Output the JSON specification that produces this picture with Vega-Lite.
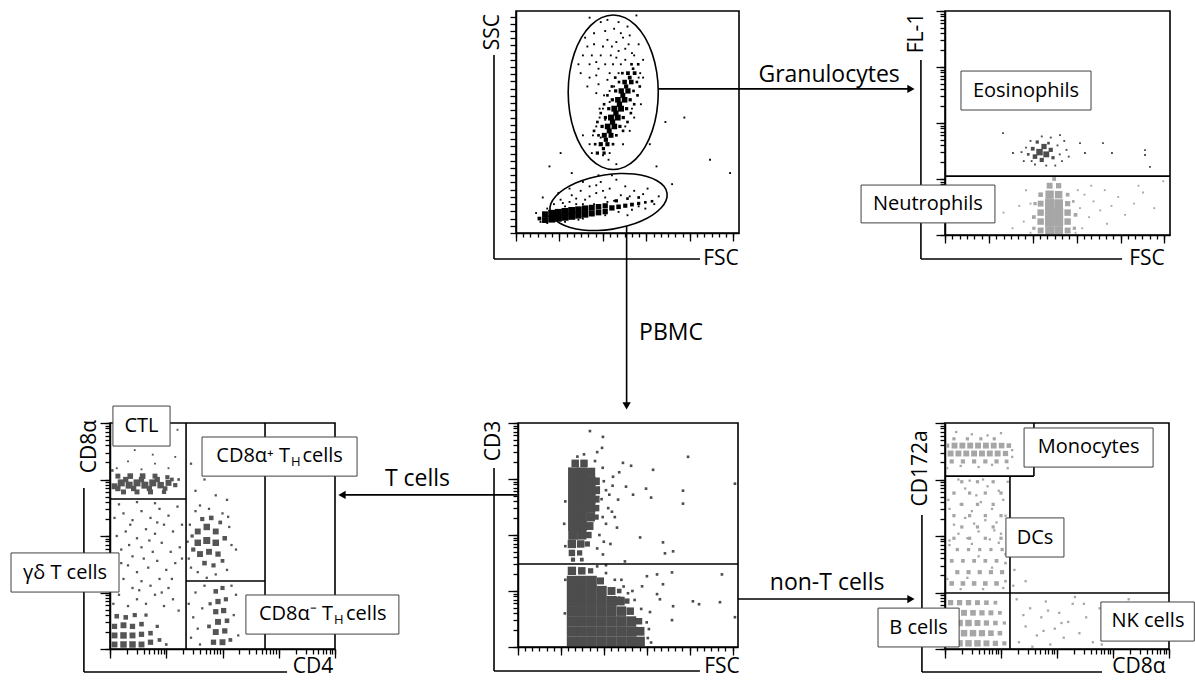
{
"$schema": "https://vega.github.io/schema/vega-lite/v6.json",
"width": 1195, "height": 680, "padding": 0, "autosize": {"type": "none"},
"background": "white",
"config": {"view": {"stroke": null}, "font": "Open Sans", "axis": {"domainColor": "black", "domainWidth": 1.5, "tickColor": "black", "tickWidth": 1.3, "labels": false, "grid": false, "zindex": 1}},
"resolve": {"scale": {"x": "independent", "y": "independent"}},
"layer": [
{
 "resolve": {"axis": {"x": "independent", "y": "independent"}},
 "layer": [
  {"data": {"values": [
{"x":34,"y":36,"n":1},{"x":36.5,"y":36,"n":3},{"x":39.5,"y":36,"n":3},{"x":42,"y":36,"n":1},
{"x":33,"y":40,"n":1},{"x":35.5,"y":40,"n":2},{"x":38,"y":40,"n":5},{"x":41,"y":40,"n":5},{"x":43.5,"y":40,"n":2},
{"x":34.5,"y":44,"n":1},{"x":37,"y":44,"n":2},{"x":39.6,"y":44,"n":7},{"x":42.6,"y":44,"n":7},{"x":45,"y":44,"n":2},
{"x":36,"y":48,"n":1},{"x":38.6,"y":48,"n":3},{"x":41.1,"y":48,"n":9},{"x":44.1,"y":48,"n":9},{"x":46.6,"y":48,"n":3},{"x":49,"y":48,"n":1},
{"x":37.5,"y":52,"n":1},{"x":40.1,"y":52,"n":3},{"x":42.6,"y":52,"n":10},{"x":45.6,"y":52,"n":10},{"x":48.1,"y":52,"n":3},
{"x":39,"y":56,"n":1},{"x":41.6,"y":56,"n":3},{"x":44.1,"y":56,"n":10},{"x":47.1,"y":56,"n":10},{"x":49.6,"y":56,"n":3},{"x":52,"y":56,"n":1},
{"x":43.2,"y":60,"n":3},{"x":45.7,"y":60,"n":9},{"x":48.7,"y":60,"n":9},{"x":51.2,"y":60,"n":3},
{"x":42,"y":64,"n":1},{"x":44.7,"y":64,"n":3},{"x":47.2,"y":64,"n":8},{"x":50.2,"y":64,"n":8},{"x":52.7,"y":64,"n":2},
{"x":46.2,"y":68,"n":2},{"x":48.7,"y":68,"n":6},{"x":51.7,"y":68,"n":6},{"x":54.2,"y":68,"n":2},
{"x":47.7,"y":72,"n":2},{"x":50.2,"y":72,"n":4},{"x":53.2,"y":72,"n":4},{"x":55.7,"y":72,"n":1},
{"x":51.8,"y":76,"n":2},{"x":54.8,"y":76,"n":2},
{"x":39.2,"y":38,"n":3},{"x":40.3,"y":42,"n":5},{"x":41.8,"y":46,"n":7},{"x":43.3,"y":50,"n":8},{"x":44.8,"y":54,"n":8},{"x":46.4,"y":58,"n":8},{"x":47.9,"y":62,"n":7},{"x":49.4,"y":66,"n":5},{"x":51,"y":70,"n":4},{"x":52.5,"y":74,"n":2},
{"x":35,"y":46,"n":2},{"x":48,"y":46,"n":2},{"x":36.5,"y":50,"n":2},{"x":50,"y":50,"n":2},{"x":38,"y":54,"n":2},{"x":51.5,"y":54,"n":2},{"x":39.5,"y":58,"n":2},{"x":53,"y":58,"n":2},{"x":41,"y":62,"n":2},{"x":54.5,"y":62,"n":2},{"x":43,"y":66,"n":2},{"x":55.5,"y":66,"n":2},{"x":44.5,"y":70,"n":2},{"x":57,"y":70,"n":1},
{"x":39,"y":35,"n":1},{"x":41.5,"y":33,"n":1},{"x":45,"y":31,"n":1},{"x":38,"y":43,"n":1},{"x":40,"y":51,"n":1},{"x":37.5,"y":56,"n":1},{"x":42,"y":59,"n":1},{"x":39.5,"y":62,"n":1},{"x":44,"y":66,"n":1},{"x":41,"y":69,"n":1},{"x":36,"y":71,"n":1},{"x":46,"y":72,"n":1},{"x":43.5,"y":76,"n":1},{"x":49,"y":78,"n":1},{"x":38,"y":80,"n":1},{"x":46,"y":82,"n":1},{"x":52,"y":81,"n":1},{"x":35,"y":85,"n":1},{"x":41,"y":87,"n":1},{"x":48,"y":88,"n":1},{"x":44,"y":92,"n":1},{"x":38,"y":95,"n":1},{"x":50,"y":93,"n":1},{"x":33,"y":76,"n":1},{"x":31,"y":88,"n":1},{"x":29,"y":72,"n":1},{"x":55,"y":70,"n":1},{"x":56,"y":58,"n":1},{"x":53,"y":52,"n":1},{"x":51,"y":46,"n":1},{"x":48,"y":40,"n":1},{"x":36,"y":63,"n":1},{"x":32,"y":66,"n":1},{"x":45,"y":86,"n":1},{"x":40,"y":76,"n":1},{"x":50.5,"y":85,"n":1},{"x":34,"y":80,"n":1},{"x":42.5,"y":80,"n":1},{"x":47,"y":76,"n":1},{"x":37,"y":67,"n":1},
{"x":30,"y":80,"n":1},{"x":32,"y":84,"n":1},{"x":35,"y":90,"n":1},{"x":37,"y":74,"n":1},{"x":39,"y":84,"n":1},{"x":40,"y":91,"n":1},{"x":42,"y":72,"n":1},{"x":43,"y":84,"n":1},{"x":45,"y":79,"n":1},{"x":47,"y":90,"n":1},{"x":49,"y":83,"n":1},{"x":51,"y":89,"n":1},{"x":53,"y":80,"n":1},{"x":36,"y":77,"n":1},{"x":33,"y":70,"n":1},{"x":41,"y":96,"n":1},{"x":46,"y":95,"n":1},{"x":55,"y":85,"n":1},{"x":57,"y":78,"n":1},{"x":28,"y":76,"n":1},
{"x":15,"y":30,"n":1},{"x":20,"y":36,"n":1},{"x":25,"y":27,"n":1},{"x":60,"y":40,"n":1},{"x":75.5,"y":52,"n":1},{"x":87,"y":33,"n":1},{"x":12,"y":16,"n":1},{"x":67,"y":50,"n":1},{"x":33,"y":97,"n":1},{"x":54,"y":98,"n":1},{"x":96,"y":27,"n":1},{"x":70,"y":22,"n":1},{"x":30,"y":44,"n":1},{"x":63,"y":30,"n":1},
{"x":13,"y":5.84,"n":10},{"x":13,"y":8.44,"n":10},{"x":16,"y":6.26,"n":14},{"x":16,"y":8.86,"n":14},{"x":19,"y":6.68,"n":14},{"x":19,"y":9.28,"n":14},{"x":22,"y":7.1,"n":14},{"x":22,"y":9.7,"n":14},{"x":25,"y":7.52,"n":14},{"x":25,"y":10.12,"n":14},{"x":28,"y":7.94,"n":12},{"x":28,"y":10.54,"n":12},{"x":31,"y":8.36,"n":12},{"x":31,"y":10.96,"n":12},{"x":34,"y":8.78,"n":10},{"x":34,"y":11.38,"n":10},{"x":37,"y":9.2,"n":9},{"x":37,"y":11.8,"n":9},{"x":40,"y":9.62,"n":8},{"x":40,"y":12.22,"n":8},
{"x":43,"y":11.3,"n":8},{"x":46,"y":11.8,"n":6},{"x":49,"y":12.3,"n":5},{"x":52,"y":12.8,"n":4},{"x":55,"y":13.3,"n":3},{"x":58,"y":13.8,"n":2},{"x":61,"y":14.3,"n":2},{"x":45,"y":14.5,"n":3},{"x":50,"y":15.5,"n":2},{"x":55,"y":16,"n":2},{"x":10.5,"y":6.5,"n":4},
{"x":14,"y":11,"n":1},{"x":17,"y":13,"n":1},{"x":20,"y":15,"n":1},{"x":22,"y":12,"n":1},{"x":25,"y":17,"n":1},{"x":27,"y":13,"n":1},{"x":29,"y":19,"n":1},{"x":31,"y":15,"n":1},{"x":33,"y":21,"n":1},{"x":35,"y":13,"n":1},{"x":36,"y":18,"n":1},{"x":38,"y":23,"n":1},{"x":40,"y":16,"n":1},{"x":42,"y":20,"n":1},{"x":44,"y":14.5,"n":1},{"x":45,"y":24,"n":1},{"x":47,"y":17,"n":1},{"x":49,"y":21,"n":1},{"x":51,"y":16.5,"n":1},{"x":53,"y":19,"n":1},{"x":55,"y":12,"n":1},{"x":57,"y":17.5,"n":1},{"x":59,"y":20,"n":1},{"x":62,"y":13,"n":1},{"x":64,"y":16.5,"n":1},{"x":18,"y":10,"n":1},{"x":26,"y":11,"n":1},{"x":34,"y":8,"n":1},{"x":46,"y":9.5,"n":1},{"x":52,"y":10.5,"n":1},{"x":24,"y":20,"n":1},{"x":30,"y":23,"n":1},{"x":37,"y":26,"n":1},{"x":43,"y":26,"n":1},{"x":11,"y":5,"n":1},{"x":9,"y":9,"n":1},{"x":14,"y":4.5,"n":1},{"x":22,"y":5,"n":1},{"x":30,"y":6.5,"n":1},{"x":40,"y":8,"n":1},{"x":19,"y":18,"n":1},{"x":28,"y":6,"n":1},{"x":50,"y":8,"n":1},{"x":58,"y":11,"n":1},{"x":21,"y":13.5,"n":1},{"x":27,"y":15.5,"n":1},{"x":33,"y":16.5,"n":1},{"x":39,"y":19,"n":1},{"x":24,"y":14,"n":1},{"x":36,"y":21.5,"n":1},{"x":41,"y":14,"n":1},{"x":30,"y":13,"n":1}
  ]},
   "mark": {"type": "square", "color": "black", "opacity": 1},
   "encoding": {
    "x": {"field": "x", "type": "quantitative", "scale": {"domain": [0, 100], "range": [516, 739], "nice": false, "zero": false},
          "axis": {"orient": "bottom", "offset": -447, "title": null, "labels": false, "grid": false, "tickSize": 4,
                   "values": [0,3.25,6.5,9.75,13,16.25,19.5,22.75,26,29.25,32.5,35.75,39,42.25,45.5,48.75,52,55.25,58.5,61.75,65,68.25,71.5,74.75,78,81.25,84.5,87.75,91,94.25,97.5]}},
    "y": {"field": "y", "type": "quantitative", "scale": {"domain": [0, 100], "range": [233, 11], "nice": false, "zero": false},
          "axis": {"orient": "left", "offset": -516, "title": null, "labels": false, "grid": false, "tickSize": 6,
                   "values": [0,3.25,6.5,9.75,13,16.25,19.5,22.75,26,29.25,32.5,35.75,39,42.25,45.5,48.75,52,55.25,58.5,61.75,65,68.25,71.5,74.75,78,81.25,84.5,87.75,91,94.25,97.5]}},
    "size": {"field": "n", "type": "quantitative", "scale": {"domain": [0, 40], "range": [0, 140]}, "legend": null}
   }},
  {"data": {"values": [
{"g":"a","i":0,"x":63.8,"y":63.4},{"g":"a","i":1,"x":63.11,"y":72.41},{"g":"a","i":2,"x":61.09,"y":80.8},{"g":"a","i":3,"x":57.88,"y":88},{"g":"a","i":4,"x":53.7,"y":93.54},{"g":"a","i":5,"x":48.83,"y":97.01},{"g":"a","i":6,"x":43.6,"y":98.2},{"g":"a","i":7,"x":38.37,"y":97.01},{"g":"a","i":8,"x":33.5,"y":93.54},{"g":"a","i":9,"x":29.32,"y":88},{"g":"a","i":10,"x":26.11,"y":80.8},{"g":"a","i":11,"x":24.09,"y":72.41},{"g":"a","i":12,"x":23.4,"y":63.4},{"g":"a","i":13,"x":24.09,"y":54.39},{"g":"a","i":14,"x":26.11,"y":46},{"g":"a","i":15,"x":29.32,"y":38.8},{"g":"a","i":16,"x":33.5,"y":33.26},{"g":"a","i":17,"x":38.37,"y":29.79},{"g":"a","i":18,"x":43.6,"y":28.6},{"g":"a","i":19,"x":48.83,"y":29.79},{"g":"a","i":20,"x":53.7,"y":33.26},{"g":"a","i":21,"x":57.88,"y":38.8},{"g":"a","i":22,"x":61.09,"y":46},{"g":"a","i":23,"x":63.11,"y":54.39},
{"g":"b","i":0,"x":67.72,"y":17.99},{"g":"b","i":1,"x":66.35,"y":21.02},{"g":"b","i":2,"x":63.27,"y":23.55},{"g":"b","i":3,"x":58.72,"y":25.44},{"g":"b","i":4,"x":52.99,"y":26.55},{"g":"b","i":5,"x":46.48,"y":26.8},{"g":"b","i":6,"x":39.62,"y":26.16},{"g":"b","i":7,"x":32.88,"y":24.7},{"g":"b","i":8,"x":26.75,"y":22.51},{"g":"b","i":9,"x":21.62,"y":19.74},{"g":"b","i":10,"x":17.83,"y":16.57},{"g":"b","i":11,"x":15.65,"y":13.22},{"g":"b","i":12,"x":15.24,"y":9.93},{"g":"b","i":13,"x":16.61,"y":6.9},{"g":"b","i":14,"x":19.69,"y":4.37},{"g":"b","i":15,"x":24.24,"y":2.48},{"g":"b","i":16,"x":29.97,"y":1.37},{"g":"b","i":17,"x":36.48,"y":1.12},{"g":"b","i":18,"x":43.34,"y":1.76},{"g":"b","i":19,"x":50.08,"y":3.22},{"g":"b","i":20,"x":56.21,"y":5.41},{"g":"b","i":21,"x":61.34,"y":8.18},{"g":"b","i":22,"x":65.13,"y":11.35},{"g":"b","i":23,"x":67.31,"y":14.7}
  ]},
   "mark": {"type": "line", "interpolate": "cardinal-closed", "color": "black", "strokeWidth": 1.6},
   "encoding": {"x": {"field": "x", "type": "quantitative", "axis": null}, "y": {"field": "y", "type": "quantitative", "axis": null}, "detail": {"field": "g"}, "order": {"field": "i", "type": "quantitative"}}},
  {"data": {"values": [
{"x":-9.87,"x2":-9.87,"y":80.2,"y2":-11.7},{"x":-9.87,"x2":82.5,"y":-11.7,"y2":-11.7},{"x":63.8,"x2":177.1,"y":64.9,"y2":64.9},{"x":49.6,"x2":49.6,"y":3.1,"y2":-77.9}
  ]},
   "mark": {"type": "rule", "color": "black", "strokeWidth": 1.6},
   "encoding": {"x": {"field": "x", "type": "quantitative", "axis": null}, "x2": {"field": "x2"}, "y": {"field": "y", "type": "quantitative", "axis": null}, "y2": {"field": "y2"}}},
  {"data": {"values": [{}]}, "mark": {"type": "rect", "filled": false, "color": "black", "strokeWidth": 1.6},
   "encoding": {"x": {"datum": 0, "type": "quantitative", "axis": {"orient": "bottom", "offset": -447, "title": null, "labels": false, "grid": false, "domain": false, "tickSize": 8, "values": [0,19.5,39,58.5,78,97.5]}}, "x2": {"datum": 100}, "y": {"datum": 0, "type": "quantitative", "axis": null}, "y2": {"datum": 100}}},
  {"data": {"values": [{}]}, "mark": {"type": "point", "shape": "triangle-right", "filled": true, "size": 70, "color": "black", "opacity": 1},
   "encoding": {"x": {"datum": 177.1, "type": "quantitative", "axis": null}, "y": {"datum": 64.9, "type": "quantitative", "axis": null}}},
  {"data": {"values": [{}]}, "mark": {"type": "point", "shape": "triangle-down", "filled": true, "size": 70, "color": "black", "opacity": 1},
   "encoding": {"x": {"datum": 49.6, "type": "quantitative", "axis": null}, "y": {"datum": -77.9, "type": "quantitative", "axis": null}}},
  {"data": {"values": [{"t":"Granulocytes","x":140.4,"y":71.2},{"t":"PBMC","x":69.5,"y":-45}]},
   "mark": {"type": "text", "fontSize": 23, "color": "black", "align": "center", "baseline": "middle"},
   "encoding": {"x": {"field": "x", "type": "quantitative", "axis": null}, "y": {"field": "y", "type": "quantitative", "axis": null}, "text": {"field": "t"}}},
  {"data": {"values": [{"t":"FSC","x":91.9,"y":-11.7}]},
   "mark": {"type": "text", "fontSize": 21, "color": "black", "align": "center", "baseline": "middle"},
   "encoding": {"x": {"field": "x", "type": "quantitative", "axis": null}, "y": {"field": "y", "type": "quantitative", "axis": null}, "text": {"field": "t"}}},
  {"data": {"values": [{"t":"SSC","x":-10.3,"y":90.5}]},
   "mark": {"type": "text", "fontSize": 21, "color": "black", "align": "center", "baseline": "middle", "angle": 270},
   "encoding": {"x": {"field": "x", "type": "quantitative", "axis": null}, "y": {"field": "y", "type": "quantitative", "axis": null}, "text": {"field": "t"}}}
 ]
},
{
 "resolve": {"axis": {"x": "independent", "y": "independent"}},
 "layer": [
  {"data": {"values": [
{"x":42.5,"y":2,"n":10},{"x":42.5,"y":6,"n":12},{"x":42.5,"y":10,"n":12},{"x":42.5,"y":14,"n":10},{"x":42.5,"y":18,"n":6},
{"x":46.5,"y":2,"n":22},{"x":46.5,"y":6,"n":24},{"x":46.5,"y":10,"n":24},{"x":46.5,"y":14,"n":24},{"x":46.5,"y":18,"n":20},{"x":46.5,"y":22,"n":10},
{"x":50.5,"y":2,"n":22},{"x":50.5,"y":6,"n":24},{"x":50.5,"y":10,"n":24},{"x":50.5,"y":14,"n":22},{"x":50.5,"y":18,"n":16},{"x":50.5,"y":22,"n":8},
{"x":54.5,"y":2,"n":10},{"x":54.5,"y":6,"n":12},{"x":54.5,"y":10,"n":12},{"x":54.5,"y":14,"n":8},{"x":54.5,"y":18,"n":4},
{"x":39.5,"y":8,"n":4},{"x":58,"y":9,"n":4},{"x":48.5,"y":25,"n":4},{"x":39.5,"y":3,"n":3},{"x":57.5,"y":3,"n":3},{"x":40,"y":14,"n":3},{"x":57,"y":15,"n":2},
{"x":60,"y":12,"n":1},{"x":62,"y":18,"n":1},{"x":64,"y":8,"n":1},{"x":66,"y":15,"n":1},{"x":69,"y":11,"n":1},{"x":71,"y":20,"n":1},{"x":74,"y":13,"n":1},{"x":77,"y":17,"n":1},{"x":80,"y":9,"n":1},{"x":84,"y":14,"n":1},{"x":88,"y":19,"n":1},{"x":93,"y":12,"n":1},{"x":35,"y":6,"n":1},{"x":33,"y":13,"n":1},{"x":30,"y":3,"n":1},{"x":26,"y":10,"n":1},{"x":36,"y":20,"n":1},{"x":61,"y":3,"n":1},{"x":65,"y":22,"n":1},{"x":58,"y":1,"n":1},{"x":38,"y":1,"n":1},{"x":86,"y":22,"n":1},{"x":97,"y":24,"n":1},{"x":72,"y":5,"n":1},{"x":38,"y":14,"n":1},{"x":59,"y":20,"n":1}
  ]},
   "mark": {"type": "square", "color": "#a6a6a6", "opacity": 1},
   "encoding": {
    "x": {"field": "x", "type": "quantitative", "scale": {"domain": [0, 100], "range": [945, 1170], "nice": false, "zero": false},
          "axis": {"orient": "bottom", "offset": -445, "title": null, "labels": false, "grid": false, "tickSize": 4,
                   "values": [0,3.25,6.5,9.75,13,16.25,19.5,22.75,26,29.25,32.5,35.75,39,42.25,45.5,48.75,52,55.25,58.5,61.75,65,68.25,71.5,74.75,78,81.25,84.5,87.75,91,94.25,97.5]}},
    "y": {"field": "y", "type": "quantitative", "scale": {"domain": [0, 100], "range": [235, 11], "nice": false, "zero": false},
          "axis": {"orient": "left", "offset": -945, "title": null, "labels": false, "grid": false, "tickSize": 5,
                   "values": [0,7.53,11.93,15.05,17.47,19.45,21.13,22.58,23.86,25,32.53,36.93,40.05,42.47,44.45,46.13,47.58,48.86,50,57.53,61.93,65.05,67.47,69.45,71.13,72.58,73.86,75,82.53,86.93,90.05,92.47,94.45,96.13,97.58,98.86,100]}},
    "size": {"field": "n", "type": "quantitative", "scale": {"domain": [0, 40], "range": [0, 140]}, "legend": null}
   }},
  {"data": {"values": [
{"x":42,"y":37,"n":12},{"x":45,"y":36,"n":10},{"x":40,"y":35,"n":6},{"x":44,"y":39.5,"n":8},{"x":47,"y":38,"n":5},{"x":39,"y":38.5,"n":4},{"x":43,"y":33.5,"n":5},{"x":37,"y":36,"n":2},{"x":48,"y":34.5,"n":3},{"x":41,"y":41.5,"n":3},{"x":46,"y":41,"n":2},
{"x":35,"y":33,"n":1},{"x":36,"y":39,"n":1},{"x":38,"y":42,"n":1},{"x":50,"y":40,"n":1},{"x":51,"y":36,"n":1},{"x":52,"y":33,"n":1},{"x":49,"y":31,"n":1},{"x":45,"y":31,"n":1},{"x":40,"y":31.5,"n":1},{"x":34,"y":37,"n":1},{"x":54,"y":38,"n":1},{"x":53,"y":42,"n":1},{"x":47,"y":43.5,"n":1},{"x":43,"y":44,"n":1},{"x":38.5,"y":33,"n":1},{"x":55,"y":35,"n":1},{"x":60,"y":41,"n":1},{"x":62.2,"y":36.6,"n":1},{"x":70.2,"y":41,"n":1},{"x":74.2,"y":36.6,"n":1},{"x":88.9,"y":37.9,"n":1},{"x":88.9,"y":35.7,"n":1},{"x":91.1,"y":30.4,"n":1},{"x":51.1,"y":44.6,"n":1},{"x":25.8,"y":45.5,"n":1},{"x":30.2,"y":36.6,"n":1}
  ]},
   "mark": {"type": "square", "color": "#4d4d4d", "opacity": 1},
   "encoding": {
    "x": {"field": "x", "type": "quantitative", "axis": {"orient": "bottom", "offset": -445, "title": null, "labels": false, "grid": false, "domain": false, "tickSize": 8, "values": [0,19.5,39,58.5,78,97.5]}},
    "y": {"field": "y", "type": "quantitative", "axis": {"orient": "left", "offset": -945, "title": null, "labels": false, "grid": false, "domain": false, "tickSize": 9, "values": [0,25,50,75,100]}},
    "size": {"field": "n", "type": "quantitative", "scale": {"domain": [0, 40], "range": [0, 140]}, "legend": null}}},
  {"data": {"values": [
{"x":0,"x2":100,"y":26.3,"y2":26.3},{"x":-10.7,"x2":-10.7,"y":78.1,"y2":-10.7},{"x":-10.7,"x2":78.7,"y":-10.7,"y2":-10.7}
  ]},
   "mark": {"type": "rule", "color": "black", "strokeWidth": 1.6},
   "encoding": {"x": {"field": "x", "type": "quantitative", "axis": null}, "x2": {"field": "x2"}, "y": {"field": "y", "type": "quantitative", "axis": null}, "y2": {"field": "y2"}}},
  {"data": {"values": [{}]}, "mark": {"type": "rect", "filled": false, "color": "black", "strokeWidth": 1.6},
   "encoding": {"x": {"datum": 0, "type": "quantitative", "axis": null}, "x2": {"datum": 100}, "y": {"datum": 0, "type": "quantitative", "axis": null}, "y2": {"datum": 100}}},
  {"data": {"values": [{"x":7.1,"x2":64.9,"y":55.8,"y2":73.2},{"x":-37.3,"x2":22.2,"y":5.4,"y2":22.3}]},
   "mark": {"type": "rect", "fill": "white", "stroke": "#404040", "strokeWidth": 1},
   "encoding": {"x": {"field": "x", "type": "quantitative", "axis": null}, "x2": {"field": "x2"}, "y": {"field": "y", "type": "quantitative", "axis": null}, "y2": {"field": "y2"}}},
  {"data": {"values": [{"t":"Eosinophils","x":36,"y":64.5},{"t":"Neutrophils","x":-7.6,"y":13.8}]},
   "mark": {"type": "text", "fontSize": 20, "color": "black", "align": "center", "baseline": "middle"},
   "encoding": {"x": {"field": "x", "type": "quantitative", "axis": null}, "y": {"field": "y", "type": "quantitative", "axis": null}, "text": {"field": "t"}}},
  {"data": {"values": [{"t":"FSC","x":89.8,"y":-10.7}]},
   "mark": {"type": "text", "fontSize": 21, "color": "black", "align": "center", "baseline": "middle"},
   "encoding": {"x": {"field": "x", "type": "quantitative", "axis": null}, "y": {"field": "y", "type": "quantitative", "axis": null}, "text": {"field": "t"}}},
  {"data": {"values": [{"t":"FL-1","x":-12.4,"y":90.2}]},
   "mark": {"type": "text", "fontSize": 21, "color": "black", "align": "center", "baseline": "middle", "angle": 270},
   "encoding": {"x": {"field": "x", "type": "quantitative", "axis": null}, "y": {"field": "y", "type": "quantitative", "axis": null}, "text": {"field": "t"}}}
 ]
},
{
 "resolve": {"axis": {"x": "independent", "y": "independent"}},
 "layer": [
  {"data": {"values": [
{"x":26,"y":82,"n":16},{"x":30,"y":82,"n":16},
{"x":25,"y":78,"n":28},{"x":29,"y":78,"n":28},{"x":33,"y":78,"n":24},
{"x":25,"y":74,"n":28},{"x":29,"y":74,"n":28},{"x":33,"y":74,"n":28},{"x":35.5,"y":74,"n":16},
{"x":25,"y":70,"n":28},{"x":29,"y":70,"n":28},{"x":33,"y":70,"n":28},{"x":35.5,"y":70,"n":18},
{"x":25,"y":66,"n":28},{"x":29,"y":66,"n":28},{"x":33,"y":66,"n":28},{"x":35.5,"y":66,"n":14},
{"x":25,"y":62,"n":28},{"x":29,"y":62,"n":28},{"x":33,"y":62,"n":26},{"x":35.5,"y":62,"n":12},
{"x":25,"y":58,"n":28},{"x":29,"y":58,"n":28},{"x":33,"y":58,"n":22},{"x":35.5,"y":58,"n":8},
{"x":25,"y":54,"n":28},{"x":29,"y":54,"n":28},{"x":32.5,"y":54,"n":18},
{"x":25,"y":50,"n":26},{"x":29,"y":50,"n":24},{"x":32,"y":50,"n":12},
{"x":24.5,"y":46,"n":20},{"x":28.5,"y":46,"n":16},{"x":31.5,"y":46,"n":8},
{"x":24.5,"y":42,"n":12},{"x":28,"y":42,"n":8},{"x":25,"y":39,"n":5},{"x":29,"y":39,"n":4},
{"x":24.5,"y":2.5,"n":30},{"x":29,"y":2.5,"n":30},{"x":33.5,"y":2.5,"n":30},{"x":38,"y":2.5,"n":30},{"x":42.5,"y":2.5,"n":30},{"x":47,"y":2.5,"n":30},{"x":51.5,"y":2.5,"n":30},{"x":55.5,"y":2.5,"n":26},
{"x":24.5,"y":7,"n":30},{"x":29,"y":7,"n":30},{"x":33.5,"y":7,"n":30},{"x":38,"y":7,"n":30},{"x":42.5,"y":7,"n":30},{"x":47,"y":7,"n":30},{"x":51.5,"y":7,"n":30},{"x":55.5,"y":7,"n":22},
{"x":24.5,"y":11.5,"n":30},{"x":29,"y":11.5,"n":30},{"x":33.5,"y":11.5,"n":30},{"x":38,"y":11.5,"n":30},{"x":42.5,"y":11.5,"n":30},{"x":47,"y":11.5,"n":30},{"x":51.5,"y":11.5,"n":28},{"x":55,"y":11.5,"n":12},
{"x":24.5,"y":16,"n":30},{"x":29,"y":16,"n":30},{"x":33.5,"y":16,"n":30},{"x":38,"y":16,"n":30},{"x":42.5,"y":16,"n":30},{"x":47,"y":16,"n":26},{"x":51,"y":16,"n":16},
{"x":24.5,"y":20.5,"n":30},{"x":29,"y":20.5,"n":30},{"x":33.5,"y":20.5,"n":30},{"x":38,"y":20.5,"n":30},{"x":42.5,"y":20.5,"n":30},{"x":46.5,"y":20.5,"n":22},{"x":49.5,"y":20.5,"n":8},
{"x":24.5,"y":25,"n":30},{"x":29,"y":25,"n":30},{"x":33.5,"y":25,"n":30},{"x":38,"y":25,"n":30},{"x":42.5,"y":25,"n":18},{"x":46,"y":25,"n":6},
{"x":24.5,"y":29.5,"n":30},{"x":29,"y":29.5,"n":30},{"x":33.5,"y":29.5,"n":30},{"x":37.5,"y":29.5,"n":14},
{"x":24.5,"y":34,"n":20},{"x":29,"y":34,"n":16},{"x":33,"y":34,"n":8},
{"x":32.7,"y":96.4,"n":2},{"x":38.6,"y":93.8,"n":2},{"x":38.2,"y":88.9,"n":2},{"x":77.3,"y":84.9,"n":2},{"x":61.4,"y":79.1,"n":2},{"x":98.6,"y":72.9,"n":2},{"x":47.7,"y":82.2,"n":2},{"x":51.4,"y":80.9,"n":2},{"x":43.2,"y":76,"n":2},{"x":49.1,"y":71.6,"n":2},{"x":52.3,"y":68,"n":2},{"x":58.2,"y":70.7,"n":2},{"x":60.5,"y":66.7,"n":2},{"x":75,"y":69.8,"n":2},{"x":75,"y":64,"n":2},{"x":45.5,"y":65.8,"n":2},{"x":42.7,"y":60.4,"n":2},{"x":45,"y":53.3,"n":2},{"x":55.5,"y":48.9,"n":2},{"x":65.9,"y":46.7,"n":2},{"x":70.5,"y":42.7,"n":2},{"x":66.8,"y":41.8,"n":2},{"x":38.6,"y":41.3,"n":2},{"x":48.6,"y":38.2,"n":2},
{"x":58.6,"y":31.6,"n":2},{"x":63.2,"y":32.4,"n":2},{"x":70,"y":33.3,"n":2},{"x":92.7,"y":32.4,"n":2},{"x":65.9,"y":28,"n":2},{"x":64.5,"y":21.3,"n":2},{"x":70.5,"y":18.2,"n":2},{"x":79.5,"y":20.4,"n":2},{"x":82.3,"y":19.1,"n":2},{"x":91.8,"y":20,"n":2},{"x":98.6,"y":13.3,"n":2},{"x":70,"y":12,"n":2},{"x":60,"y":15.6,"n":2},{"x":59.5,"y":8,"n":2},{"x":63.2,"y":23.6,"n":2},{"x":56.4,"y":27.1,"n":2},
{"x":38.5,"y":80,"n":2},{"x":39,"y":74,"n":2},{"x":40,"y":70,"n":2},{"x":38,"y":66,"n":2},{"x":41,"y":62,"n":2},{"x":38.5,"y":58,"n":2},{"x":40,"y":55,"n":2},{"x":37,"y":50,"n":2},{"x":39,"y":47,"n":2},{"x":36,"y":44,"n":2},{"x":21.5,"y":45,"n":2},{"x":21,"y":55,"n":2},{"x":21.5,"y":65,"n":2},{"x":35,"y":83,"n":2},{"x":30,"y":86,"n":2},{"x":27,"y":85,"n":2},{"x":59,"y":4,"n":2},{"x":58.5,"y":11,"n":2},{"x":56,"y":17,"n":2},{"x":53,"y":21,"n":2},{"x":50,"y":24,"n":2},{"x":48,"y":27,"n":2},{"x":44,"y":30,"n":2},{"x":40,"y":33,"n":2},{"x":36,"y":36,"n":2},{"x":46,"y":22,"n":2},{"x":21.3,"y":15,"n":2},{"x":21.5,"y":30,"n":2},{"x":60.5,"y":2,"n":2},{"x":52,"y":25,"n":2},{"x":47,"y":30,"n":2},{"x":40,"y":36.5,"n":2},{"x":42,"y":46,"n":2},{"x":44,"y":58,"n":2},{"x":41.5,"y":68,"n":2},{"x":43,"y":72,"n":2},{"x":46,"y":78,"n":2},{"x":36,"y":87,"n":2}
  ]},
   "mark": {"type": "square", "color": "#4d4d4d", "opacity": 1},
   "encoding": {
    "x": {"field": "x", "type": "quantitative", "scale": {"domain": [0, 100], "range": [518, 738], "nice": false, "zero": false},
          "axis": {"orient": "bottom", "offset": -33, "title": null, "labels": false, "grid": false, "tickSize": 4,
                   "values": [0,3.25,6.5,9.75,13,16.25,19.5,22.75,26,29.25,32.5,35.75,39,42.25,45.5,48.75,52,55.25,58.5,61.75,65,68.25,71.5,74.75,78,81.25,84.5,87.75,91,94.25,97.5]}},
    "y": {"field": "y", "type": "quantitative", "scale": {"domain": [0, 100], "range": [647, 423], "nice": false, "zero": false},
          "axis": {"orient": "left", "offset": -518, "title": null, "labels": false, "grid": false, "tickSize": 5,
                   "values": [0,7.53,11.93,15.05,17.47,19.45,21.13,22.58,23.86,25,32.53,36.93,40.05,42.47,44.45,46.13,47.58,48.86,50,57.53,61.93,65.05,67.47,69.45,71.13,72.58,73.86,75,82.53,86.93,90.05,92.47,94.45,96.13,97.58,98.86,100]}},
    "size": {"field": "n", "type": "quantitative", "scale": {"domain": [0, 40], "range": [0, 140]}, "legend": null}
   }},
  {"data": {"values": [
{"x":0,"x2":100,"y":37.05,"y2":37.05},{"x":-10.9,"x2":-10.9,"y":79.9,"y2":-10.7},{"x":-10.9,"x2":82.7,"y":-10.7,"y2":-10.7},{"x":-0.45,"x2":-80,"y":67.9,"y2":67.9},{"x":100,"x2":178.6,"y":21.4,"y2":21.4}
  ]},
   "mark": {"type": "rule", "color": "black", "strokeWidth": 1.6},
   "encoding": {"x": {"field": "x", "type": "quantitative", "axis": null}, "x2": {"field": "x2"}, "y": {"field": "y", "type": "quantitative", "axis": null}, "y2": {"field": "y2"}}},
  {"data": {"values": [{}]}, "mark": {"type": "rect", "filled": false, "color": "black", "strokeWidth": 1.6},
   "encoding": {"x": {"datum": 0, "type": "quantitative", "axis": {"orient": "bottom", "offset": -33, "title": null, "labels": false, "grid": false, "domain": false, "tickSize": 8, "values": [0,19.5,39,58.5,78,97.5]}}, "x2": {"datum": 100},
                "y": {"datum": 0, "type": "quantitative", "axis": {"orient": "left", "offset": -518, "title": null, "labels": false, "grid": false, "domain": false, "tickSize": 10, "values": [0,25,50,75,100]}}, "y2": {"datum": 100}}},
  {"data": {"values": [{}]}, "mark": {"type": "point", "shape": "triangle-left", "filled": true, "size": 70, "color": "black", "opacity": 1},
   "encoding": {"x": {"datum": -80, "type": "quantitative", "axis": null}, "y": {"datum": 67.9, "type": "quantitative", "axis": null}}},
  {"data": {"values": [{}]}, "mark": {"type": "point", "shape": "triangle-right", "filled": true, "size": 70, "color": "black", "opacity": 1},
   "encoding": {"x": {"datum": 178.6, "type": "quantitative", "axis": null}, "y": {"datum": 21.4, "type": "quantitative", "axis": null}}},
  {"data": {"values": [{"t":"T cells","x":-45.7,"y":75},{"t":"non-T cells","x":140.5,"y":28.6}]},
   "mark": {"type": "text", "fontSize": 23, "color": "black", "align": "center", "baseline": "middle"},
   "encoding": {"x": {"field": "x", "type": "quantitative", "axis": null}, "y": {"field": "y", "type": "quantitative", "axis": null}, "text": {"field": "t"}}},
  {"data": {"values": [{"t":"FSC","x":92.7,"y":-13.4}]},
   "mark": {"type": "text", "fontSize": 21, "color": "black", "align": "center", "baseline": "bottom"},
   "encoding": {"x": {"field": "x", "type": "quantitative", "axis": null}, "y": {"field": "y", "type": "quantitative", "axis": null}, "text": {"field": "t"}}},
  {"data": {"values": [{"t":"CD3","x":-10.9,"y":92}]},
   "mark": {"type": "text", "fontSize": 21, "color": "black", "align": "center", "baseline": "middle", "angle": 270},
   "encoding": {"x": {"field": "x", "type": "quantitative", "axis": null}, "y": {"field": "y", "type": "quantitative", "axis": null}, "text": {"field": "t"}}}
 ]
},
{
 "resolve": {"axis": {"x": "independent", "y": "independent"}},
 "layer": [
  {"data": {"values": [
{"x":2,"y":72,"n":10},{"x":5,"y":73.5,"n":14},{"x":8.5,"y":72.5,"n":14},{"x":12,"y":73.5,"n":14},{"x":15.5,"y":72.5,"n":14},{"x":19,"y":73.5,"n":14},{"x":22.5,"y":72.5,"n":12},{"x":26,"y":73.5,"n":10},{"x":29,"y":72.5,"n":5},{"x":3.5,"y":76.5,"n":7},{"x":9,"y":76.5,"n":9},{"x":14.5,"y":76.5,"n":9},{"x":20,"y":76.5,"n":7},{"x":25.5,"y":76,"n":5},{"x":6,"y":69.5,"n":7},{"x":12,"y":69.5,"n":7},{"x":18,"y":69.5,"n":7},{"x":24,"y":69.5,"n":5},{"x":30.5,"y":75,"n":2},{"x":1,"y":79,"n":2},
{"x":3.5,"y":71,"n":8},{"x":7,"y":75,"n":8},{"x":10.5,"y":71,"n":8},{"x":14,"y":75,"n":8},{"x":17.5,"y":71,"n":8},{"x":21,"y":75,"n":8},{"x":24.5,"y":71,"n":6},{"x":27.5,"y":75,"n":4},
{"x":3,"y":80,"n":1},{"x":8,"y":83,"n":1},{"x":14,"y":79.5,"n":1},{"x":20,"y":82,"n":1},{"x":26,"y":80,"n":1},{"x":29,"y":85,"n":1},{"x":11,"y":88,"n":1},{"x":17,"y":91,"n":1},{"x":6,"y":95,"n":1},{"x":24,"y":93,"n":1},{"x":30,"y":97,"n":1},{"x":19,"y":86,"n":1},
{"x":2,"y":2,"n":10},{"x":6,"y":2,"n":12},{"x":10,"y":2,"n":12},{"x":14,"y":2,"n":10},{"x":18,"y":3,"n":8},{"x":2,"y":6,"n":10},{"x":6,"y":6,"n":12},{"x":10,"y":6,"n":10},{"x":14,"y":6.5,"n":8},{"x":18,"y":7,"n":6},{"x":2,"y":10,"n":8},{"x":6,"y":10.5,"n":10},{"x":10,"y":10,"n":8},{"x":14,"y":11,"n":6},{"x":3,"y":14.5,"n":6},{"x":7,"y":14,"n":6},{"x":11,"y":15,"n":5},{"x":16,"y":15,"n":3},{"x":22,"y":4,"n":4},{"x":21,"y":10,"n":3},{"x":25,"y":2,"n":2},
{"x":1.5,"y":20,"n":1.5},{"x":4,"y":24,"n":1.5},{"x":8,"y":19,"n":1.5},{"x":12,"y":22,"n":1.5},{"x":16,"y":20,"n":1.5},{"x":20,"y":24,"n":1.5},{"x":24,"y":19,"n":1.5},{"x":28,"y":22,"n":1.5},{"x":30.5,"y":17,"n":1.5},{"x":2,"y":28,"n":1.5},{"x":6,"y":31,"n":1.5},{"x":10,"y":27,"n":1.5},{"x":14,"y":30,"n":1.5},{"x":18,"y":28,"n":1.5},{"x":22,"y":31,"n":1.5},{"x":26,"y":27,"n":1.5},{"x":3,"y":35,"n":1.5},{"x":8,"y":37,"n":1.5},{"x":12,"y":34,"n":1.5},{"x":17,"y":36,"n":1.5},{"x":21,"y":39,"n":1.5},{"x":25,"y":35,"n":1.5},{"x":29,"y":38,"n":1.5},{"x":1.5,"y":42,"n":1.5},{"x":5,"y":44,"n":1.5},{"x":10,"y":41,"n":1.5},{"x":14,"y":45,"n":1.5},{"x":19,"y":43,"n":1.5},{"x":23,"y":47,"n":1.5},{"x":27,"y":43,"n":1.5},{"x":31,"y":45,"n":1.5},{"x":3,"y":50,"n":1.5},{"x":7,"y":52,"n":1.5},{"x":12,"y":49,"n":1.5},{"x":16,"y":53,"n":1.5},{"x":20,"y":51,"n":1.5},{"x":24,"y":55,"n":1.5},{"x":28,"y":52,"n":1.5},{"x":2,"y":58,"n":1.5},{"x":6,"y":60,"n":1.5},{"x":10,"y":57,"n":1.5},{"x":14,"y":61,"n":1.5},{"x":18,"y":58,"n":1.5},{"x":22,"y":62,"n":1.5},{"x":26,"y":59,"n":1.5},{"x":30,"y":63,"n":1.5},{"x":4,"y":64,"n":1.5},{"x":12,"y":65,"n":1.5},{"x":20,"y":64.5,"n":1.5},{"x":8.5,"y":46,"n":1.5},{"x":15,"y":40,"n":1.5},{"x":5,"y":38,"n":1.5},{"x":17.5,"y":48,"n":1.5},{"x":9,"y":55,"n":1.5},{"x":23,"y":25,"n":1.5},{"x":13,"y":26,"n":1.5},{"x":27.5,"y":31,"n":1.5},{"x":32,"y":40,"n":1.5},{"x":32,"y":55,"n":1.5},{"x":0.8,"y":33,"n":1.5},{"x":21,"y":56,"n":1.5},
{"x":39,"y":52,"n":10},{"x":43,"y":54,"n":12},{"x":47,"y":52,"n":10},{"x":39,"y":47,"n":12},{"x":43,"y":48,"n":14},{"x":47,"y":47,"n":12},{"x":51,"y":49,"n":6},{"x":40,"y":42,"n":10},{"x":44,"y":43,"n":10},{"x":48,"y":42,"n":8},{"x":42,"y":38,"n":6},{"x":46,"y":37,"n":5},{"x":45,"y":58,"n":6},{"x":41,"y":57.5,"n":5},{"x":49,"y":56,"n":4},{"x":37,"y":44,"n":5},{"x":50,"y":39,"n":4},{"x":36.5,"y":50,"n":3},
{"x":35.5,"y":55,"n":1.5},{"x":38,"y":61,"n":1.5},{"x":44,"y":62,"n":1.5},{"x":50,"y":60,"n":1.5},{"x":53,"y":54,"n":1.5},{"x":54,"y":46,"n":1.5},{"x":52,"y":35,"n":1.5},{"x":36,"y":36,"n":1.5},{"x":35,"y":40,"n":1.5},{"x":39,"y":34,"n":1.5},{"x":47,"y":33,"n":1.5},{"x":40,"y":63.5,"n":1.5},{"x":56,"y":44,"n":1.5},{"x":34.5,"y":47.5,"n":1.5},{"x":52.5,"y":58.5,"n":1.5},{"x":38,"y":70,"n":1.5},{"x":42,"y":75,"n":1.5},{"x":36,"y":82,"n":1.5},{"x":47,"y":68,"n":1.5},{"x":52,"y":66,"n":1.5},
{"x":46,"y":3,"n":8},{"x":50,"y":3,"n":10},{"x":47,"y":7.5,"n":10},{"x":51,"y":8,"n":8},{"x":48,"y":12,"n":10},{"x":52,"y":12.5,"n":6},{"x":47,"y":16.5,"n":8},{"x":50.5,"y":17,"n":8},{"x":48,"y":21,"n":8},{"x":51.5,"y":22,"n":5},{"x":47,"y":25.5,"n":6},{"x":50,"y":27,"n":5},{"x":53.5,"y":4,"n":4},{"x":44,"y":10,"n":4},{"x":44.5,"y":20,"n":3},
{"x":36,"y":5,"n":1.5},{"x":37,"y":14,"n":1.5},{"x":38,"y":25,"n":1.5},{"x":40,"y":2,"n":1.5},{"x":41,"y":18,"n":1.5},{"x":42,"y":28,"n":1.5},{"x":55,"y":15,"n":1.5},{"x":56,"y":24,"n":1.5},{"x":54,"y":28,"n":1.5},{"x":57,"y":6,"n":1.5},{"x":39,"y":9,"n":1.5},{"x":35,"y":20,"n":1.5},{"x":43,"y":31.5,"n":1.5}
  ]},
   "mark": {"type": "square", "color": "#555555", "opacity": 1},
   "encoding": {
    "x": {"field": "x", "type": "quantitative", "scale": {"domain": [0, 100], "range": [110, 335], "nice": false, "zero": false},
          "axis": {"orient": "bottom", "offset": -31, "title": null, "labels": false, "grid": false, "tickSize": 5,
                   "values": [0,7.53,11.93,15.05,17.47,19.45,21.13,22.58,23.86,25,32.53,36.93,40.05,42.47,44.45,46.13,47.58,48.86,50,57.53,61.93,65.05,67.47,69.45,71.13,72.58,73.86,75,82.53,86.93,90.05,92.47,94.45,96.13,97.58,98.86,100]}},
    "y": {"field": "y", "type": "quantitative", "scale": {"domain": [0, 100], "range": [649, 423], "nice": false, "zero": false},
          "axis": {"orient": "left", "offset": -110, "title": null, "labels": false, "grid": false, "tickSize": 5,
                   "values": [0,7.53,11.93,15.05,17.47,19.45,21.13,22.58,23.86,25,32.53,36.93,40.05,42.47,44.45,46.13,47.58,48.86,50,57.53,61.93,65.05,67.47,69.45,71.13,72.58,73.86,75,82.53,86.93,90.05,92.47,94.45,96.13,97.58,98.86,100]}},
    "size": {"field": "n", "type": "quantitative", "scale": {"domain": [0, 40], "range": [0, 140]}, "legend": null}
   }},
  {"data": {"values": [
{"x":33.8,"x2":33.8,"y":0,"y2":100},{"x":68.9,"x2":68.9,"y":0,"y2":100},{"x":0,"x2":33.8,"y":66.4,"y2":66.4},{"x":33.8,"x2":68.9,"y":30.1,"y2":30.1},{"x":-11.6,"x2":-11.6,"y":71.2,"y2":-10.2},{"x":-11.6,"x2":78.7,"y":-10.2,"y2":-10.2}
  ]},
   "mark": {"type": "rule", "color": "black", "strokeWidth": 1.6},
   "encoding": {"x": {"field": "x", "type": "quantitative", "axis": null}, "x2": {"field": "x2"}, "y": {"field": "y", "type": "quantitative", "axis": null}, "y2": {"field": "y2"}}},
  {"data": {"values": [{}]}, "mark": {"type": "rect", "filled": false, "color": "black", "strokeWidth": 1.6},
   "encoding": {"x": {"datum": 0, "type": "quantitative", "axis": {"orient": "bottom", "offset": -31, "title": null, "labels": false, "grid": false, "domain": false, "tickSize": 9, "values": [0,25,50,75,100]}}, "x2": {"datum": 100},
                "y": {"datum": 0, "type": "quantitative", "axis": {"orient": "left", "offset": -110, "title": null, "labels": false, "grid": false, "domain": false, "tickSize": 10, "values": [0,25,50,75,100]}}, "y2": {"datum": 100}}},
  {"data": {"values": [{"x":1.3,"x2":26.7,"y":89.8,"y2":107.5},{"x":40.9,"x2":109.8,"y":76.5,"y2":93.8},{"x":-44,"x2":4,"y":25.2,"y2":42.5},{"x":60.4,"x2":128.4,"y":6.6,"y2":23.9}]},
   "mark": {"type": "rect", "fill": "white", "stroke": "#404040", "strokeWidth": 1},
   "encoding": {"x": {"field": "x", "type": "quantitative", "axis": null}, "x2": {"field": "x2"}, "y": {"field": "y", "type": "quantitative", "axis": null}, "y2": {"field": "y2"}}},
  {"data": {"values": [{"t":"CTL","x":14,"y":98.7},{"t":"γδ T cells","x":-20,"y":33.8}]},
   "mark": {"type": "text", "fontSize": 20, "color": "black", "align": "center", "baseline": "middle"},
   "encoding": {"x": {"field": "x", "type": "quantitative", "axis": null}, "y": {"field": "y", "type": "quantitative", "axis": null}, "text": {"field": "t"}}},
  {"data": {"values": [{"t":"CD8α⁺ T","x":80,"y":85.2},{"t":"CD8α⁻ T","x":99.1,"y":15.3}]},
   "mark": {"type": "text", "fontSize": 20, "color": "black", "align": "right", "baseline": "middle"},
   "encoding": {"x": {"field": "x", "type": "quantitative", "axis": null}, "y": {"field": "y", "type": "quantitative", "axis": null}, "text": {"field": "t"}}},
  {"data": {"values": [{"t":"H","x":80.4,"y":85.2},{"t":"H","x":99.5,"y":15.3}]},
   "mark": {"type": "text", "fontSize": 13, "fill": "black", "align": "left", "baseline": "middle", "dy": 6},
   "encoding": {"x": {"field": "x", "type": "quantitative", "axis": null}, "y": {"field": "y", "type": "quantitative", "axis": null}, "text": {"field": "t"}}},
  {"data": {"values": [{"t":"cells","x":85.5,"y":85.2},{"t":"cells","x":104.9,"y":15.3}]},
   "mark": {"type": "text", "fontSize": 20, "color": "black", "align": "left", "baseline": "middle"},
   "encoding": {"x": {"field": "x", "type": "quantitative", "axis": null}, "y": {"field": "y", "type": "quantitative", "axis": null}, "text": {"field": "t"}}},
  {"data": {"values": [{"t":"CD4","x":90.2,"y":-12.4}]},
   "mark": {"type": "text", "fontSize": 21, "color": "black", "align": "center", "baseline": "bottom"},
   "encoding": {"x": {"field": "x", "type": "quantitative", "axis": null}, "y": {"field": "y", "type": "quantitative", "axis": null}, "text": {"field": "t"}}},
  {"data": {"values": [{"t":"CD8α","x":-8.9,"y":89.6}]},
   "mark": {"type": "text", "fontSize": 21, "color": "black", "align": "center", "baseline": "middle", "angle": 270},
   "encoding": {"x": {"field": "x", "type": "quantitative", "axis": null}, "y": {"field": "y", "type": "quantitative", "axis": null}, "text": {"field": "t"}}}
 ]
},
{
 "resolve": {"axis": {"x": "independent", "y": "independent"}},
 "layer": [
  {"data": {"values": [
{"x":2.5,"y":86.5,"n":10},{"x":6,"y":86.5,"n":10},{"x":9.5,"y":86.5,"n":10},{"x":13,"y":86.5,"n":10},{"x":16.5,"y":86.5,"n":10},{"x":20,"y":86.5,"n":10},{"x":23.5,"y":86.5,"n":10},{"x":27,"y":86.5,"n":8},
{"x":4.25,"y":90,"n":10},{"x":7.75,"y":90,"n":10},{"x":11.25,"y":90,"n":10},{"x":14.75,"y":90,"n":10},{"x":18.25,"y":90,"n":10},{"x":21.75,"y":90,"n":10},{"x":25.25,"y":90,"n":9},{"x":28.5,"y":90,"n":6},{"x":1,"y":90,"n":5},
{"x":3,"y":83,"n":5},{"x":8,"y":83,"n":5},{"x":13,"y":83,"n":5},{"x":18,"y":83,"n":5},{"x":23,"y":83,"n":5},{"x":27.5,"y":83,"n":4},{"x":4,"y":93,"n":3},{"x":10,"y":93,"n":3},{"x":16,"y":93,"n":3},{"x":22,"y":93,"n":3},
{"x":1,"y":80,"n":1.5},{"x":7,"y":81,"n":1.5},{"x":15,"y":80.5,"n":1.5},{"x":21,"y":81.5,"n":1.5},{"x":28,"y":80,"n":1.5},{"x":30,"y":85,"n":1.5},{"x":30,"y":88,"n":1.5},{"x":12,"y":95,"n":1.5},{"x":19,"y":94.5,"n":1.5},{"x":25,"y":95.5,"n":1.5},{"x":5,"y":96,"n":1.5},
{"x":2.5,"y":2.5,"n":12},{"x":6.5,"y":2.5,"n":12},{"x":10.5,"y":2.5,"n":12},{"x":14.5,"y":2.5,"n":12},{"x":18.5,"y":2.5,"n":10},{"x":22.5,"y":2.5,"n":8},{"x":26.5,"y":2.5,"n":5},
{"x":1,"y":7,"n":6},{"x":4.5,"y":7,"n":12},{"x":8.5,"y":7,"n":12},{"x":12.5,"y":7,"n":12},{"x":16.5,"y":7,"n":11},{"x":20.5,"y":7,"n":9},{"x":24.5,"y":7,"n":6},
{"x":2.5,"y":11.5,"n":10},{"x":6.5,"y":11.5,"n":12},{"x":10.5,"y":11.5,"n":12},{"x":14.5,"y":11.5,"n":10},{"x":18.5,"y":11.5,"n":8},{"x":22.5,"y":11.5,"n":6},{"x":26.5,"y":11.5,"n":3},
{"x":1,"y":16,"n":5},{"x":4.5,"y":16,"n":10},{"x":8.5,"y":16,"n":10},{"x":12.5,"y":16,"n":9},{"x":16.5,"y":16,"n":8},{"x":20.5,"y":16,"n":7},{"x":24.5,"y":16,"n":4},
{"x":2.5,"y":20.5,"n":8},{"x":6.5,"y":20.5,"n":8},{"x":10.5,"y":20.5,"n":8},{"x":14.5,"y":20.5,"n":7},{"x":18.5,"y":20.5,"n":6},{"x":22.5,"y":20.5,"n":4},
{"x":3,"y":29,"n":6},{"x":8,"y":29,"n":6},{"x":13,"y":29,"n":6},{"x":18,"y":29,"n":6},{"x":23,"y":29,"n":6},
{"x":5.5,"y":34,"n":5},{"x":10.5,"y":34,"n":5},{"x":15.5,"y":34,"n":5},{"x":20.5,"y":34,"n":5},{"x":25.5,"y":34,"n":5},
{"x":3,"y":39,"n":4},{"x":8,"y":39,"n":4},{"x":13,"y":39,"n":4},{"x":18,"y":39,"n":4},{"x":23,"y":39,"n":4},
{"x":5.5,"y":44,"n":3},{"x":10.5,"y":44,"n":3},{"x":15.5,"y":44,"n":3},{"x":20.5,"y":44,"n":3},{"x":25.5,"y":44,"n":3},{"x":27,"y":30,"n":2},{"x":27,"y":38,"n":2},
{"x":4,"y":49,"n":3},{"x":11,"y":49,"n":3},{"x":18,"y":49,"n":3},{"x":25,"y":49,"n":3},{"x":7.5,"y":54,"n":3},{"x":14.5,"y":54,"n":3},{"x":21.5,"y":54,"n":3},{"x":4,"y":59,"n":3},{"x":11,"y":59,"n":3},{"x":18,"y":59,"n":3},{"x":25,"y":59,"n":3},{"x":7.5,"y":64,"n":3},{"x":14.5,"y":64,"n":3},{"x":21.5,"y":64,"n":3},{"x":4,"y":69,"n":3},{"x":11,"y":69,"n":3},{"x":18,"y":69,"n":3},{"x":25,"y":69,"n":3},{"x":7.5,"y":74,"n":3},{"x":14.5,"y":74,"n":3},{"x":21.5,"y":74,"n":3},
{"x":1,"y":31,"n":1.5},{"x":10,"y":31.5,"n":1.5},{"x":21,"y":36,"n":1.5},{"x":15,"y":41,"n":1.5},{"x":27,"y":42,"n":1.5},{"x":2,"y":46,"n":1.5},{"x":12,"y":46.5,"n":1.5},{"x":24,"y":47,"n":1.5},{"x":7,"y":26.5,"n":1.5},{"x":17,"y":26.5,"n":1.5},{"x":26,"y":27,"n":1.5},
{"x":2,"y":48,"n":1.5},{"x":6,"y":51,"n":1.5},{"x":10,"y":49,"n":1.5},{"x":15,"y":52,"n":1.5},{"x":20,"y":48.5,"n":1.5},{"x":25,"y":51,"n":1.5},{"x":4,"y":55,"n":1.5},{"x":9,"y":58,"n":1.5},{"x":13,"y":55.5,"n":1.5},{"x":18,"y":57,"n":1.5},{"x":23,"y":56,"n":1.5},{"x":27,"y":59,"n":1.5},{"x":2,"y":62,"n":1.5},{"x":7,"y":64,"n":1.5},{"x":12,"y":61,"n":1.5},{"x":16,"y":65,"n":1.5},{"x":21,"y":62,"n":1.5},{"x":26,"y":66,"n":1.5},{"x":4,"y":69,"n":1.5},{"x":9,"y":71,"n":1.5},{"x":14,"y":68,"n":1.5},{"x":19,"y":72,"n":1.5},{"x":24,"y":70,"n":1.5},{"x":28,"y":74,"n":1.5},{"x":6,"y":75,"n":1.5},{"x":11,"y":74.5,"n":1.5},{"x":17,"y":75,"n":1.5},{"x":1.5,"y":66,"n":1.5},{"x":22,"y":52.5,"n":1.5},
{"x":33,"y":3,"n":1.5},{"x":36,"y":10,"n":1.5},{"x":38,"y":18,"n":1.5},{"x":41,"y":6,"n":1.5},{"x":43,"y":14,"n":1.5},{"x":45,"y":21,"n":1.5},{"x":47,"y":2,"n":1.5},{"x":49,"y":9,"n":1.5},{"x":51,"y":16,"n":1.5},{"x":53,"y":5,"n":1.5},{"x":55,"y":12,"n":1.5},{"x":57,"y":20,"n":1.5},{"x":60,"y":7,"n":1.5},{"x":63,"y":14,"n":1.5},{"x":66,"y":3,"n":1.5},{"x":69,"y":18,"n":1.5},{"x":72,"y":10,"n":1.5},{"x":76,"y":5,"n":1.5},{"x":80,"y":15,"n":1.5},{"x":85,"y":8,"n":1.5},{"x":90,"y":19,"n":1.5},{"x":95,"y":4,"n":1.5},{"x":32,"y":22,"n":1.5},{"x":39,"y":1,"n":1.5},{"x":58,"y":23,"n":1.5},{"x":46,"y":17,"n":1.5},{"x":52,"y":11.5,"n":1.5},{"x":44,"y":8,"n":1.5},{"x":35,"y":15,"n":1.5},{"x":62,"y":20,"n":1.5},{"x":70,"y":2,"n":1.5},{"x":82,"y":22,"n":1.5},{"x":31,"y":35,"n":1.5},{"x":33,"y":44,"n":1.5},{"x":30.5,"y":28,"n":1.5},{"x":36,"y":30,"n":1.5}
  ]},
   "mark": {"type": "square", "color": "#a6a6a6", "opacity": 1},
   "encoding": {
    "x": {"field": "x", "type": "quantitative", "scale": {"domain": [0, 100], "range": [945, 1169], "nice": false, "zero": false},
          "axis": {"orient": "bottom", "offset": -31, "title": null, "labels": false, "grid": false, "tickSize": 5,
                   "values": [0,7.53,11.93,15.05,17.47,19.45,21.13,22.58,23.86,25,32.53,36.93,40.05,42.47,44.45,46.13,47.58,48.86,50,57.53,61.93,65.05,67.47,69.45,71.13,72.58,73.86,75,82.53,86.93,90.05,92.47,94.45,96.13,97.58,98.86,100]}},
    "y": {"field": "y", "type": "quantitative", "scale": {"domain": [0, 100], "range": [649, 423], "nice": false, "zero": false},
          "axis": {"orient": "left", "offset": -945, "title": null, "labels": false, "grid": false, "tickSize": 5,
                   "values": [0,7.53,11.93,15.05,17.47,19.45,21.13,22.58,23.86,25,32.53,36.93,40.05,42.47,44.45,46.13,47.58,48.86,50,57.53,61.93,65.05,67.47,69.45,71.13,72.58,73.86,75,82.53,86.93,90.05,92.47,94.45,96.13,97.58,98.86,100]}},
    "size": {"field": "n", "type": "quantitative", "scale": {"domain": [0, 40], "range": [0, 140]}, "legend": null}
   }},
  {"data": {"values": [
{"x":0,"x2":39.7,"y":76.5,"y2":76.5},{"x":39.7,"x2":39.7,"y":76.5,"y2":100},{"x":29,"x2":29,"y":0,"y2":76.5},{"x":0,"x2":100,"y":24.8,"y2":24.8},{"x":-10.3,"x2":-10.3,"y":59.3,"y2":-10.2},{"x":-10.3,"x2":70.1,"y":-10.2,"y2":-10.2}
  ]},
   "mark": {"type": "rule", "color": "black", "strokeWidth": 1.6},
   "encoding": {"x": {"field": "x", "type": "quantitative", "axis": null}, "x2": {"field": "x2"}, "y": {"field": "y", "type": "quantitative", "axis": null}, "y2": {"field": "y2"}}},
  {"data": {"values": [{}]}, "mark": {"type": "rect", "filled": false, "color": "black", "strokeWidth": 1.6},
   "encoding": {"x": {"datum": 0, "type": "quantitative", "axis": {"orient": "bottom", "offset": -31, "title": null, "labels": false, "grid": false, "domain": false, "tickSize": 9, "values": [0,25,50,75,100]}}, "x2": {"datum": 100},
                "y": {"datum": 0, "type": "quantitative", "axis": {"orient": "left", "offset": -945, "title": null, "labels": false, "grid": false, "domain": false, "tickSize": 10, "values": [0,25,50,75,100]}}, "y2": {"datum": 100}}},
  {"data": {"values": [{"x":35.3,"x2":92.9,"y":80.5,"y2":97.8},{"x":27.2,"x2":53.1,"y":40.7,"y2":58},{"x":-29.9,"x2":6.3,"y":0.9,"y2":18.1},{"x":69.6,"x2":111.3,"y":3.5,"y2":20.8}]},
   "mark": {"type": "rect", "fill": "white", "stroke": "#404040", "strokeWidth": 1},
   "encoding": {"x": {"field": "x", "type": "quantitative", "axis": null}, "x2": {"field": "x2"}, "y": {"field": "y", "type": "quantitative", "axis": null}, "y2": {"field": "y2"}}},
  {"data": {"values": [{"t":"Monocytes","x":64.1,"y":89.2},{"t":"DCs","x":40.2,"y":49.3},{"t":"B cells","x":-11.8,"y":9.5},{"t":"NK cells","x":90.6,"y":12.2}]},
   "mark": {"type": "text", "fontSize": 20, "color": "black", "align": "center", "baseline": "middle"},
   "encoding": {"x": {"field": "x", "type": "quantitative", "axis": null}, "y": {"field": "y", "type": "quantitative", "axis": null}, "text": {"field": "t"}}},
  {"data": {"values": [{"t":"CD8α","x":86.6,"y":-12.4}]},
   "mark": {"type": "text", "fontSize": 21, "color": "black", "align": "center", "baseline": "bottom"},
   "encoding": {"x": {"field": "x", "type": "quantitative", "axis": null}, "y": {"field": "y", "type": "quantitative", "axis": null}, "text": {"field": "t"}}},
  {"data": {"values": [{"t":"CD172a","x":-10.7,"y":79.9}]},
   "mark": {"type": "text", "fontSize": 21, "color": "black", "align": "center", "baseline": "middle", "angle": 270},
   "encoding": {"x": {"field": "x", "type": "quantitative", "axis": null}, "y": {"field": "y", "type": "quantitative", "axis": null}, "text": {"field": "t"}}}
 ]
}
]
}
